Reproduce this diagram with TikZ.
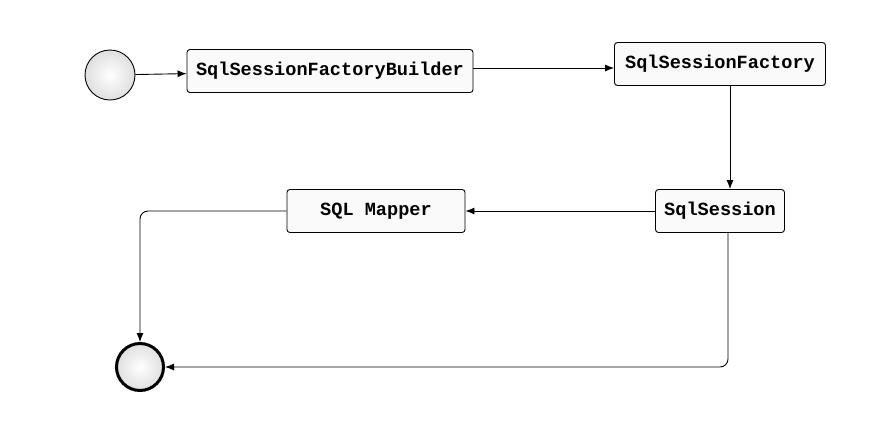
\documentclass[tikz,border=0pt]{standalone}
\usepackage{fontspec}
\usetikzlibrary{arrows.meta}
\newfontfamily\monofont{Liberation Mono}
\tikzstyle{state}=[draw,line width=0.9pt,rounded corners=3pt,fill=gray!4,inner sep=0pt,minimum height=43pt,font=\monofont\bfseries\fontsize{18.6}{18.6}\selectfont]
\tikzstyle{pseudo}=[circle,draw,line width=0.9pt,inner sep=0pt,minimum size=50pt,shading=radial,inner color=white,outer color=gray!25]
\tikzstyle{final}=[pseudo,line width=3pt,minimum size=47pt]
\tikzstyle{edge}=[draw,line width=0.9pt,-{Latex[length=9pt,width=7pt]},rounded corners=8pt]

\begin{document}
\begin{tikzpicture}[x=1pt,y=-1pt]
    \useasboundingbox[fill=white] (0,0) rectangle (877,429);

    % Nodes
    \node[pseudo] (start) at (110,75) {};
    \node[final] (end) at (140,367) {};
    \foreach \pos/\name/\boxw/\txt in {{(330,71)/builder/286/SqlSessionFactoryBuilder},
                                       {(720,64)/factory/211/SqlSessionFactory},
                                       {(720,211)/session/129/SqlSession},
                                       {(376,211)/mapper/178/SQL Mapper}}
        \node[state,minimum width=\boxw pt] (\name) at \pos {\txt};

    % Link creation
    \path[edge] (start) -- (builder);
    \path[edge] (builder.east |- 0,68) -- (factory.west |- 0,68);
    \path[edge] ([xshift=10pt]factory.south) -- ([xshift=10pt]session.north);
    \path[edge] (session) -- (mapper);
    \path[edge] (mapper.west) -| (end.north);
    \path[edge] ([xshift=8pt]session.south) |- (end.east);
\end{tikzpicture}
\end{document}
